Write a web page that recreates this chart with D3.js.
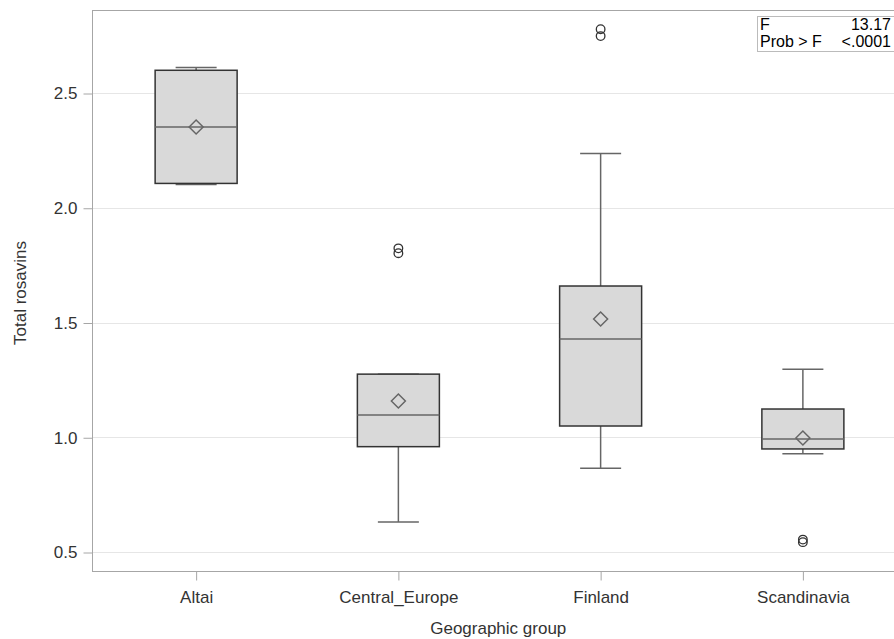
<!DOCTYPE html>
<html>
  <head>
    <title>Total rosavins by geographic group</title>
    <style>
      body { margin: 0; background: #fff; }
      text { font-family: "Liberation Sans", Arial, sans-serif; }
    </style>
    <script src="https://unpkg.com/d3@7/dist/d3.min.js"></script>
  </head>
  <body>
    <script>
      // data
      const groups = ['Altai', 'Central_Europe', 'Finland', 'Scandinavia'];
      const q1 = [2.106, 0.959, 1.049, 0.949];
      const medians = [2.352, 1.097, 1.428, 0.992];
      const q3 = [2.599, 1.275, 1.659, 1.123];
      const whiskerLow = [2.101, 0.631, 0.865, 0.928];
      const whiskerHigh = [2.611, 1.275, 2.236, 1.296];
      const means = [2.352, 1.158, 1.515, 0.997];
      const outliers = [[], [1.823, 1.802], [2.778, 2.748], [0.554, 0.543]];
      const yTicks = [0.5, 1.0, 1.5, 2.0, 2.5];
      const statLabels = ['F', 'Prob > F'];
      const statValues = ['13.17', '<.0001'];

      const width = 894;
      const height = 639;
      const frame = {left: 92.5, top: 10.5, right: 900, bottom: 571.5};
      const fontSize = '17px';

      const svg = d3.select('body').append('svg')
        .attr('width', width)
        .attr('height', height);

      const x = d3.scaleBand().domain(groups).range([95, 904]);
      const y = d3.scaleLinear().domain([0.5, 2.5]).range([552, 93]);
      const boxW = 82;
      const capW = 41;

      // gridlines
      svg.append('g')
        .selectAll('line')
        .data(yTicks)
        .join('line')
        .attr('x1', frame.left).attr('x2', frame.right)
        .attr('y1', d => Math.round(y(d)) + 0.5)
        .attr('y2', d => Math.round(y(d)) + 0.5)
        .attr('stroke', '#e6e6e6');

      // y axis
      const yAxis = d3.axisLeft(y).tickValues(yTicks).tickFormat(d3.format('.1f'))
        .tickSize(9).tickPadding(6).tickSizeOuter(0);
      const gy = svg.append('g')
        .attr('transform', `translate(${frame.left},0.5)`)
        .call(yAxis);
      gy.select('.domain').remove();
      gy.selectAll('line').attr('stroke', '#a6a6a6');
      gy.selectAll('text').attr('fill', '#333').style('font-size', fontSize);

      // x axis
      const xAxis = d3.axisBottom(x).tickSize(9).tickPadding(10).tickSizeOuter(0);
      const gx = svg.append('g')
        .attr('transform', `translate(0.5,${frame.bottom})`)
        .call(xAxis);
      gx.select('.domain').remove();
      gx.selectAll('line').attr('stroke', '#a6a6a6');
      gx.selectAll('text').attr('fill', '#333').style('font-size', fontSize);

      // frame
      svg.append('rect')
        .attr('x', frame.left).attr('y', frame.top)
        .attr('width', frame.right - frame.left)
        .attr('height', frame.bottom - frame.top)
        .attr('fill', 'none')
        .attr('stroke', '#a6a6a6');

      // boxes
      const boxes = groups.map((g, i) => ({
        g: g, q1: q1[i], med: medians[i], q3: q3[i],
        lo: whiskerLow[i], hi: whiskerHigh[i], mean: means[i], out: outliers[i]
      }));
      const cx = d => x(d.g) + x.bandwidth() / 2;

      const bg = svg.append('g')
        .selectAll('g')
        .data(boxes)
        .join('g');

      // whiskers
      bg.append('line')
        .attr('x1', cx).attr('x2', cx)
        .attr('y1', d => y(d.hi)).attr('y2', d => y(d.q3))
        .attr('stroke', '#666').attr('stroke-width', 1.5);
      bg.append('line')
        .attr('x1', cx).attr('x2', cx)
        .attr('y1', d => y(d.q1)).attr('y2', d => y(d.lo))
        .attr('stroke', '#666').attr('stroke-width', 1.5);
      bg.append('line')
        .attr('x1', d => cx(d) - capW / 2).attr('x2', d => cx(d) + capW / 2)
        .attr('y1', d => y(d.hi)).attr('y2', d => y(d.hi))
        .attr('stroke', '#666').attr('stroke-width', 1.5);
      bg.append('line')
        .attr('x1', d => cx(d) - capW / 2).attr('x2', d => cx(d) + capW / 2)
        .attr('y1', d => y(d.lo)).attr('y2', d => y(d.lo))
        .attr('stroke', '#666').attr('stroke-width', 1.5);

      bg.append('rect')
        .attr('x', d => cx(d) - boxW / 2)
        .attr('width', boxW)
        .attr('y', d => y(d.q3))
        .attr('height', d => y(d.q1) - y(d.q3))
        .attr('fill', '#d9d9d9')
        .attr('stroke', '#333')
        .attr('stroke-width', 1.5);

      bg.append('line')
        .attr('x1', d => cx(d) - boxW / 2).attr('x2', d => cx(d) + boxW / 2)
        .attr('y1', d => y(d.med)).attr('y2', d => y(d.med))
        .attr('stroke', '#666').attr('stroke-width', 1.5);

      // mean diamond
      bg.append('path')
        .attr('d', d => {
          const px = cx(d), py = y(d.mean), r = 7;
          return `M${px - r},${py}L${px},${py - r}L${px + r},${py}L${px},${py + r}Z`;
        })
        .attr('fill', 'none')
        .attr('stroke', '#666')
        .attr('stroke-width', 1.5);

      // outliers
      bg.selectAll('circle')
        .data(d => d.out.map(v => ({g: d.g, v: v})))
        .join('circle')
        .attr('cx', cx)
        .attr('cy', d => y(d.v))
        .attr('r', 4.3)
        .attr('fill', 'none')
        .attr('stroke', '#333')
        .attr('stroke-width', 1.3);

      // axis titles
      svg.append('text')
        .attr('transform', `translate(26,${(frame.top + frame.bottom) / 2 + 2}) rotate(-90)`)
        .attr('text-anchor', 'middle')
        .attr('fill', '#333')
        .style('font-size', fontSize)
        .text('Total rosavins');
      svg.append('text')
        .attr('x', (frame.left + 894) / 2 + 5)
        .attr('y', 634)
        .attr('text-anchor', 'middle')
        .attr('fill', '#333')
        .style('font-size', fontSize)
        .text('Geographic group');

      // stats inset
      const inset = svg.append('g');
      inset.append('rect')
        .attr('x', 757.5).attr('y', 16.5)
        .attr('width', 150).attr('height', 35)
        .attr('fill', '#fff')
        .attr('stroke', '#bbb');
      inset.selectAll('text.lab')
        .data(statLabels)
        .join('text')
        .attr('class', 'lab')
        .attr('x', 760)
        .attr('y', (d, i) => 30 + i * 17)
        .attr('fill', '#000')
        .style('font-size', '16px')
        .text(d => d);
      inset.selectAll('text.val')
        .data(statValues)
        .join('text')
        .attr('class', 'val')
        .attr('x', 891)
        .attr('y', (d, i) => 30 + i * 17)
        .attr('text-anchor', 'end')
        .attr('fill', '#000')
        .style('font-size', '16px')
        .text(d => d);
    </script>
  </body>
</html>
